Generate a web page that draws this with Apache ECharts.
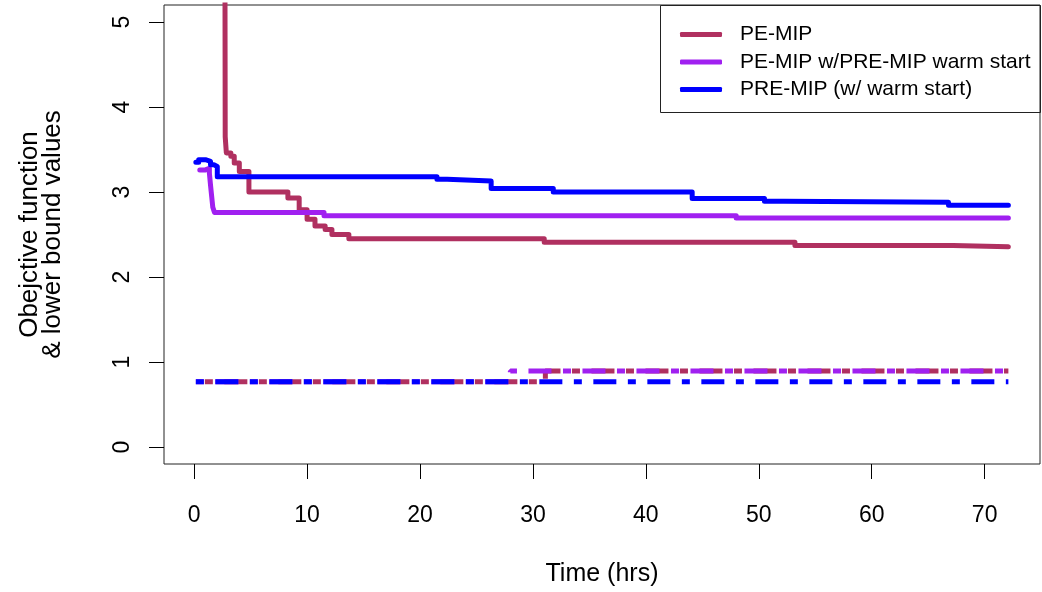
<!DOCTYPE html>
<html>
<head>
<meta charset="utf-8">
<script src="https://cdn.jsdelivr.net/npm/echarts@6/dist/echarts.min.js"></script>
<style>
html,body{margin:0;padding:0;background:#fff;}
#chart{width:1042px;height:592px;}
</style>
</head>
<body>
<div id="chart"></div>
<script>
// ---- data ----
const xTicks = [0, 10, 20, 30, 40, 50, 60, 70];
const yTicks = [0, 1, 2, 3, 4, 5];
const seriesNames = ['PE-MIP', 'PE-MIP w/PRE-MIP warm start', 'PRE-MIP (w/ warm start)'];

// PE-MIP objective (step)
const peMipT = [2.7, 2.75, 2.85, 3.25, 3.55, 4.0, 4.85, 8.3, 9.3, 10.0, 10.7, 11.6, 12.2, 13.7, 31.0, 53.2, 67.2, 72.1];
const peMipV = [8.0, 3.65, 3.46, 3.42, 3.34, 3.24, 3.0, 2.93, 2.79, 2.68, 2.60, 2.56, 2.50, 2.45, 2.41, 2.37, 2.355, 2.355];
// PE-MIP w/ warm start objective
const peWarmT = [0.5, 1.0, 1.35, 1.45, 1.55, 1.65, 1.8, 11.5, 48.0, 72.1];
const peWarmV = [3.26, 3.28, 3.22, 3.08, 2.95, 2.82, 2.76, 2.72, 2.695, 2.695];
// PRE-MIP objective
const preT = [0.15, 0.4, 1.0, 1.45, 1.75, 2.05, 21.5, 22.4, 26.3, 31.8, 44.1, 50.5, 52.2, 66.8, 72.1];
const preV = [3.35, 3.38, 3.36, 3.32, 3.30, 3.18, 3.15, 3.13, 3.04, 3.00, 2.925, 2.89, 2.88, 2.845, 2.845];

// lower bounds
const peMipLbT = [0.15, 31.1, 72.1];
const peMipLbV = [0.767, 0.895, 0.895];
const peWarmLbT = [0.15, 28.0, 72.1];
const peWarmLbV = [0.767, 0.895, 0.895];
const preLbT = [0.15, 72.1];
const preLbV = [0.767, 0.767];

const colors = ['#B03060', '#A020F0', '#0000FF'];

function zip(t, v) { return t.map((x, i) => [x, v[i]]); }

const FONT = 'Arial, "Liberation Sans", sans-serif';
const dash = [8, 11.5, 23, 11.5];

function solid(name, data, color) {
  return {
    name: name, type: 'line', step: 'end', data: data, showSymbol: false, symbol: 'none',
    color: color, lineStyle: { width: 5, color: color, cap: 'round', join: 'round' },
    clip: true, silent: true
  };
}
function dashed(name, data, color, offset) {
  return {
    name: name, type: 'line', step: 'end', data: data, showSymbol: false, symbol: 'none',
    color: color, lineStyle: { width: 5, color: color, type: dash, dashOffset: offset, cap: 'butt' },
    clip: true, silent: true
  };
}

const chart = echarts.init(document.getElementById('chart'), null, { renderer: 'canvas' });
chart.setOption({
  animation: false,
  backgroundColor: '#fff',
  grid: { left: 164, top: 5, width: 876, height: 460, show: true, borderColor: '#222', borderWidth: 1, containLabel: false },
  xAxis: {
    type: 'value', min: -2.67, max: 74.9,
    name: 'Time (hrs)', nameLocation: 'middle', nameGap: 98,
    nameTextStyle: { fontFamily: FONT, fontSize: 25, color: '#000' },
    axisLine: { show: false, onZero: false },
    axisTick: { show: true, inside: false, length: 15, lineStyle: { color: '#000', width: 1 }, customValues: xTicks },
    axisLabel: { show: true, margin: 40, fontFamily: FONT, fontSize: 23, color: '#000', customValues: xTicks },
    splitLine: { show: false }
  },
  yAxis: {
    type: 'value', min: -0.2, max: 5.2,
    name: 'Obejctive function\n& lower bound values', nameLocation: 'middle', nameGap: 100, nameRotate: 90,
    nameTextStyle: { fontFamily: FONT, fontSize: 26, color: '#000', lineHeight: 23 },
    axisLine: { show: false, onZero: false },
    axisTick: { show: true, inside: false, length: 15, lineStyle: { color: '#000', width: 1 }, customValues: yTicks },
    axisLabel: { show: true, rotate: 90, margin: 30, fontFamily: FONT, fontSize: 23, color: '#000', customValues: yTicks },
    splitLine: { show: false }
  },
  legend: {
    data: seriesNames, orient: 'vertical', left: 680, top: 24, itemGap: 6.5,
    itemWidth: 42, itemHeight: 5, icon: 'roundRect',
    textStyle: { fontFamily: FONT, fontSize: 21, color: '#000', padding: [0, 0, 0, 13] },
    selectedMode: false, padding: 0
  },
  graphic: [{
    type: 'rect', shape: { x: 660.5, y: 5.5, width: 380, height: 107 },
    style: { fill: 'none', stroke: '#222', lineWidth: 1 }, z: 100
  }],
  series: [
    dashed('PE-MIP LB', zip(peMipLbT, peMipLbV), colors[0], -9),
    dashed('PE-MIP w/PRE-MIP warm start LB', zip(peWarmLbT, peWarmLbV), colors[1], 0),
    dashed('PRE-MIP LB', zip(preLbT, preLbV), colors[2], 0),
    solid(seriesNames[0], zip(peMipT, peMipV), colors[0]),
    solid(seriesNames[1], zip(peWarmT, peWarmV), colors[1]),
    solid(seriesNames[2], zip(preT, preV), colors[2])
  ]
});
</script>
</body>
</html>
